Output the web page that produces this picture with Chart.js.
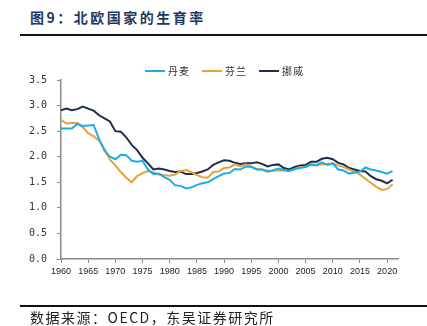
<!DOCTYPE html>
<html>
<head>
<meta charset="utf-8">
<script src="https://cdn.jsdelivr.net/npm/chart.js@4"></script>
<style>
  body{margin:0;width:427px;height:326px;position:relative;background:#fff;overflow:hidden;
       font-family:"Noto Sans CJK SC",sans-serif}
  #wrap{position:absolute;left:0;top:0;width:427px;height:326px}
  #title{position:absolute;left:30px;top:7px;font-size:14px;font-weight:bold;color:#1f3a60;
         letter-spacing:2.5px;white-space:nowrap}
  .rule{position:absolute;left:20px;right:0;height:2px;background:#111}
  #legend{position:absolute;left:145px;top:63px;display:flex;align-items:center;
          font-size:10px;color:#333;letter-spacing:1px;white-space:nowrap}
  #legend span.l{display:inline-block;width:20px;height:2px;margin-right:3px}
  #legend span.t{margin-right:12px}
  #source{position:absolute;left:30px;top:309px;font-size:14px;color:#222;letter-spacing:1.5px;
          white-space:nowrap;line-height:16px}
</style>
</head>
<body>
<div id="title">图9：北欧国家的生育率</div>
<div class="rule" style="top:34px"></div>
<div id="wrap"><canvas id="c"></canvas></div>
<div id="legend"></div>
<div class="rule" style="top:305px"></div>
<div id="source">数据来源：OECD，东吴证券研究所</div>
<script>
/* ––––– data ––––– */
const years = [];
for (let y = 1960; y <= 2021; y++) years.push(y);

const seriesNames  = ['丹麦', '芬兰', '挪威'];
const seriesColors = ['#1aaee6', '#e9a038', '#1f2d4e'];

const denmark = [
  2.55,2.55,2.55,2.64,2.60,2.61,2.62,2.35,2.12,2.00,
  1.95,2.04,2.03,1.92,1.90,1.92,1.75,1.66,1.67,1.60,
  1.55,1.44,1.43,1.38,1.40,1.45,1.48,1.50,1.56,1.62,
  1.67,1.68,1.76,1.75,1.81,1.80,1.75,1.75,1.72,1.73,
  1.77,1.74,1.72,1.76,1.78,1.80,1.85,1.84,1.89,1.84,
  1.87,1.75,1.73,1.67,1.69,1.71,1.79,1.75,1.73,1.70,
  1.67,1.72];
const finland = [
  2.72,2.65,2.66,2.66,2.58,2.46,2.40,2.32,2.15,1.94,
  1.83,1.70,1.59,1.50,1.62,1.68,1.72,1.69,1.65,1.64,
  1.63,1.65,1.72,1.74,1.70,1.64,1.60,1.59,1.70,1.71,
  1.78,1.79,1.85,1.81,1.85,1.81,1.76,1.75,1.70,1.73,
  1.73,1.73,1.72,1.76,1.80,1.80,1.84,1.83,1.85,1.86,
  1.87,1.83,1.80,1.75,1.71,1.65,1.57,1.49,1.41,1.35,
  1.37,1.46];
const norway = [
  2.91,2.94,2.91,2.93,2.98,2.94,2.90,2.81,2.75,2.69,
  2.50,2.49,2.38,2.23,2.13,1.98,1.87,1.75,1.77,1.75,
  1.72,1.70,1.71,1.66,1.66,1.68,1.71,1.75,1.84,1.89,
  1.93,1.92,1.88,1.86,1.87,1.87,1.89,1.86,1.81,1.84,
  1.85,1.78,1.75,1.80,1.83,1.84,1.90,1.90,1.96,1.98,
  1.95,1.88,1.85,1.78,1.75,1.72,1.71,1.62,1.56,1.53,
  1.48,1.55];
const seriesValues = [denmark, finland, norway];

/* ––––– legend (html) ––––– */
const lg = document.getElementById('legend');
seriesNames.forEach((n, i) => {
  lg.innerHTML += `<span class="l" style="background:${seriesColors[i]}"></span><span class="t">${n}</span>`;
});

/* ––––– chart ––––– */
const axisGrey = '#8a8a8a';
new Chart(document.getElementById('c'), {
  type: 'line',
  data: {
    datasets: seriesValues.map((vals, i) => ({
      label: seriesNames[i],
      data: years.map((y, k) => ({x: y, y: vals[k]})),
      borderColor: seriesColors[i],
      borderWidth: 2,
      pointRadius: 0,
      tension: 0,
      fill: false
    }))
  },
  options: {
    responsive: true,
    maintainAspectRatio: false,
    animation: false,
    layout: {padding: {top: 80, right: 29, bottom: 42, left: 0}},
    plugins: {legend: {display: false}, tooltip: {enabled: false}},
    scales: {
      x: {
        type: 'linear', min: 1960, max: 2022,
        afterFit: s => { s.height = 25; },
        grid: {drawOnChartArea: false, drawTicks: true, tickLength: 4, color: axisGrey},
        border: {display: true, color: axisGrey, width: 1.5},
        ticks: {stepSize: 5, includeBounds: false, autoSkip: false, maxRotation: 0,
                padding: 3, color: '#222',
                font: {family: '"Liberation Sans", Arial, sans-serif', size: 9},
                callback: v => String(v)}
      },
      y: {
        min: 0, max: 3.5,
        afterFit: s => { s.width = 61; },
        grid: {drawOnChartArea: false, drawTicks: true, tickLength: 4, color: axisGrey},
        border: {display: true, color: axisGrey, width: 1.5},
        ticks: {stepSize: 0.5, padding: 10, color: '#333',
                font: {family: '"DejaVu Sans Mono", monospace', size: 10},
                callback: v => v.toFixed(1)}
      }
    }
  }
});
</script>
</body>
</html>
